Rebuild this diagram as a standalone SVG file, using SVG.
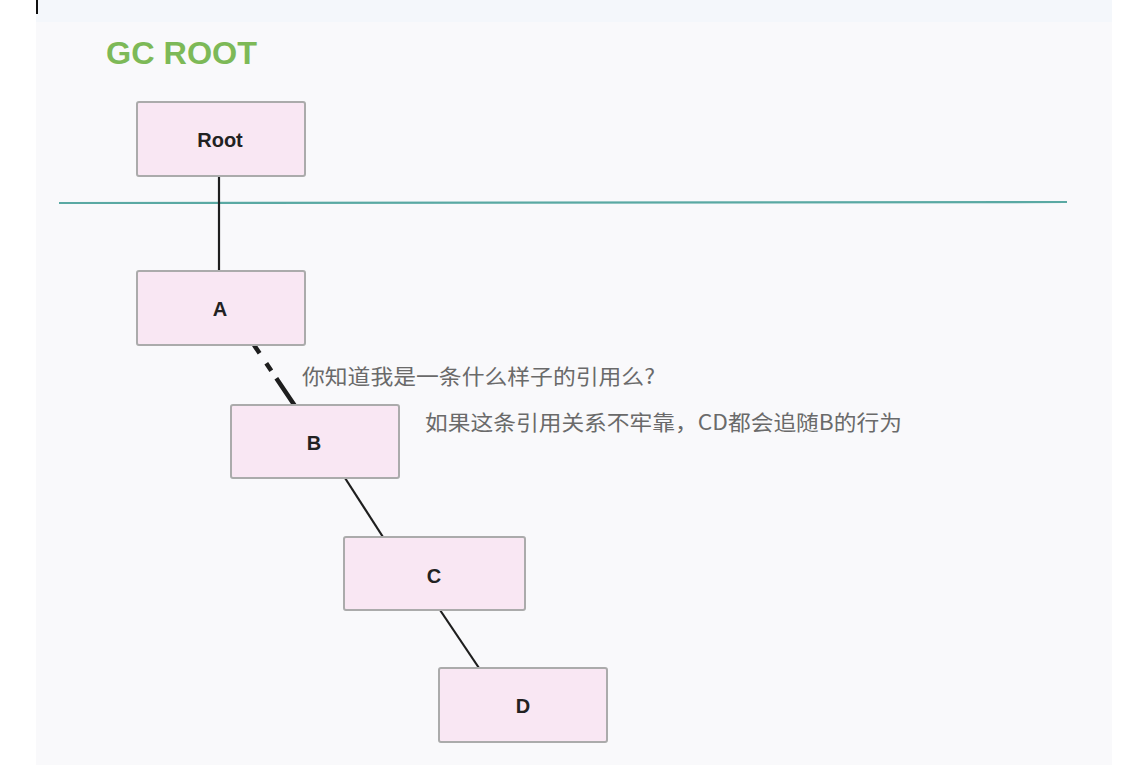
<svg xmlns="http://www.w3.org/2000/svg" width="1148" height="774" viewBox="0 0 1148 774">
<style>
.node rect{fill:#f9e7f3;stroke:#ababab;stroke-width:2}
.node text{font-family:"Liberation Sans",Arial,sans-serif;font-weight:bold;font-size:20px;fill:#222;text-anchor:middle}
.conn line{stroke:#1e1e1e;stroke-width:2.2}
.conn line.weak{stroke-width:4.5;stroke-dasharray:10,12,9,9,40}
.note{font-family:"Noto Sans CJK SC","Noto Sans",sans-serif;font-size:21px;fill:#6a6a6a}
</style>
<rect x="0" y="0" width="1148" height="774" fill="#ffffff"/>
<rect x="36" y="0" width="1076" height="765" fill="#f9f9fb"/>
<rect x="36" y="0" width="1076" height="22" fill="#f4f7fb"/>
<line x1="37" y1="0" x2="37" y2="14" stroke="#111" stroke-width="2"/>
<text x="106" y="64" font-family="Liberation Sans,Arial,sans-serif" font-size="31" font-weight="bold" fill="#7db957" textLength="151" lengthAdjust="spacingAndGlyphs">GC ROOT</text>
<line x1="59" y1="203" x2="1067" y2="202" stroke="#5aa9a3" stroke-width="2.2"/>
<g class="conn">
<line x1="219" y1="176" x2="219" y2="271"/>
<line class="weak" x1="254" y1="345" x2="295" y2="406"/>
<line x1="345" y1="478" x2="383" y2="537"/>
<line x1="440" y1="610" x2="479" y2="668"/>
</g>
<g id="root" class="node"><rect x="137" y="102" width="168" height="74" rx="2"/><text x="220" y="147">Root</text></g>
<g id="a" class="node"><rect x="137" y="271" width="168" height="74" rx="2"/><text x="220" y="316">A</text></g>
<g id="b" class="node"><rect x="231" y="405" width="168" height="73" rx="2"/><text x="314" y="450">B</text></g>
<g id="c" class="node"><rect x="344" y="537" width="181" height="73" rx="2"/><text x="434" y="583">C</text></g>
<g id="d" class="node"><rect x="439" y="668" width="168" height="74" rx="2"/><text x="523" y="713">D</text></g>
<text class="note" x="302" y="384" textLength="353" lengthAdjust="spacingAndGlyphs">你知道我是一条什么样子的引用么?</text>
<text class="note" x="425" y="430" textLength="477" lengthAdjust="spacingAndGlyphs">如果这条引用关系不牢靠，CD都会追随B的行为</text>
</svg>
